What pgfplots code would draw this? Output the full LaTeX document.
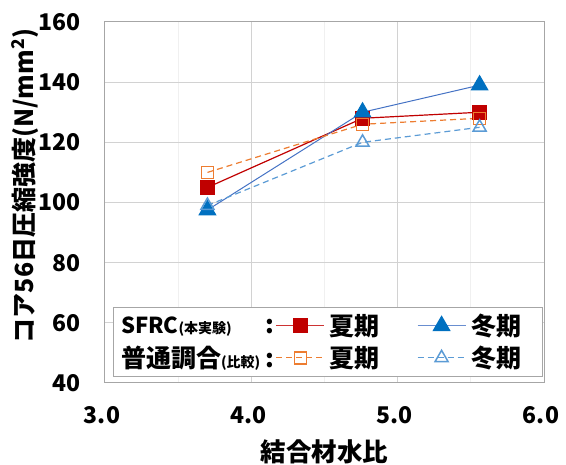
\documentclass[border=0pt]{standalone}
\usepackage{fontspec}
\setmainfont{Carlito}
\newfontfamily\cjk{Noto Sans CJK JP}
\usepackage{pgfplots}
\pgfplotsset{compat=1.18}

\definecolor{sred}{HTML}{C00000}
\definecolor{sblue}{HTML}{0070C0}
\definecolor{sbline}{HTML}{4472C4}
\definecolor{norange}{HTML}{ED7D31}
\definecolor{nblue}{HTML}{5B9BD5}

\pgfplotsset{
  longimg/.style={legend image code/.code={
    \draw[##1, mark repeat=2, mark phase=2] plot coordinates {(0pt,0pt) (24pt,0pt) (48pt,0pt)};}},
}

\begin{document}
\begin{tikzpicture}
\useasboundingbox (-105pt,-82pt) rectangle (461pt,383pt);
\begin{axis}[
    at={(0pt,0pt)}, anchor=south west,
    scale only axis,
    width=439pt, height=361pt,
    xmin=3, xmax=6, ymin=40, ymax=160,
    xtick={3,4,5,6}, ytick={40,60,...,160},
    minor xtick={3.5,4.5,5.5},
    grid=both,
    major grid style={gray!35, line width=1pt},
    minor grid style={gray!12, line width=1pt},
    axis line style={gray!70, line width=1pt},
    tick style={draw=none},
    /pgf/number format/assume math mode=true,
    xticklabel={\mbox{\cjk\bfseries\pgfmathprintnumber[assume math mode=true, fixed, fixed zerofill, precision=1]{\tick}}},
    yticklabel={\mbox{\cjk\bfseries\pgfmathprintnumber[assume math mode=true]{\tick}}},
    tick label style={font=\fontsize{23}{27}\selectfont},
    xticklabel style={inner sep=0pt, anchor=north, yshift=-23pt, xshift=-3pt},
    yticklabel style={inner sep=0pt, anchor=east, xshift=-24pt},
    every axis x label/.style={at={(rel axis cs:0.5,0)}, anchor=center, yshift=-69pt},
    every axis y label/.style={at={(rel axis cs:0,0.546)}, xshift=-80pt, rotate=90, anchor=center},
    xlabel={\fontsize{25.5}{28}\selectfont\bfseries\cjk 結合材水比},
    ylabel={\fontsize{25}{28}\selectfont\bfseries\cjk コア56日圧縮強度(N/mm\textsuperscript{2})},
    legend columns=3,
    legend cell align=left,
    legend style={at={(0.997,0.017)}, anchor=south east, draw=gray!70, line width=1pt,
      fill=white, font=\fontsize{25}{28}\selectfont\bfseries\cjk,
      /tikz/every odd column/.append style={column sep=3pt},
      row sep=5pt, inner xsep=3pt, inner ysep=5pt},
]

% SFRC summer
\addplot[forget plot, sred, line width=1.2pt, mark=square*, mark size=7pt] coordinates {
    (3.70,105) (4.76,128) (5.56,130)
};
% SFRC winter
\addplot[forget plot, sbline, line width=1pt, mark=triangle*, mark size=9.5pt,
    mark options={sblue, fill=sblue}] coordinates {
    (3.70,97.5) (4.76,130) (5.56,139)
};
% normal summer
\addplot[forget plot, norange, line width=1.2pt, dash pattern=on 6pt off 4pt,
    mark=square, mark size=6pt, mark options={solid, fill=white, line width=1.5pt}] coordinates {
    (3.70,110) (4.76,126) (5.56,128)
};
% normal winter
\addplot[forget plot, nblue, line width=1.2pt, dash pattern=on 6pt off 4pt,
    mark=triangle, mark size=7.5pt, mark options={solid, fill=white, line width=1.5pt}] coordinates {
    (3.70,99) (4.76,120) (5.56,125)
};

\addlegendimage{empty legend}
\addlegendentry{\makebox[144pt][l]{\fontsize{22}{24}\selectfont SFRC{\fontsize{14}{18}\selectfont(\cjk 本実験)}}:}
\addlegendimage{longimg, sred!80, line width=1.2pt, mark=square*, mark size=7pt, mark options={sred}}
\addlegendentry{夏期\rule{35pt}{0pt}}
\addlegendimage{longimg, sbline!80, line width=1pt, mark=triangle*, mark size=9.5pt, mark options={sblue, fill=sblue}}
\addlegendentry{冬期\rule{16pt}{0pt}}
\addlegendimage{empty legend}
\addlegendentry{\makebox[144pt][l]{普通調合{\fontsize{14}{18}\selectfont(比較)}}:}
\addlegendimage{longimg, norange, line width=1.2pt, dash pattern=on 6pt off 4pt, mark=square, mark size=6pt, mark options={solid, fill=white, line width=1.5pt}}
\addlegendentry{夏期\rule{35pt}{0pt}}
\addlegendimage{longimg, nblue, line width=1.2pt, dash pattern=on 6pt off 4pt, mark=triangle, mark size=7.5pt, mark options={solid, fill=white, line width=1.5pt}}
\addlegendentry{冬期\rule{16pt}{0pt}}

\end{axis}
\end{tikzpicture}
\end{document}
